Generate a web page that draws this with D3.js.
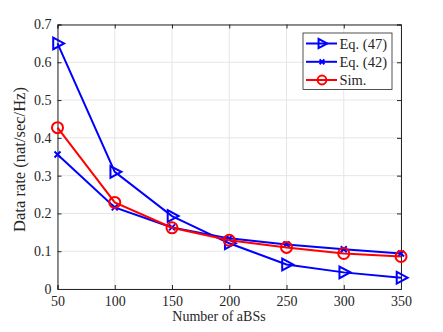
<!DOCTYPE html>
<html><head><meta charset="utf-8">
<script src="https://cdn.jsdelivr.net/npm/d3@7"></script>
<style>body{margin:0;background:#fff}svg{display:block}</style>
</head><body><div id="chart"></div>
<script>
const xValues = [50, 100, 150, 200, 250, 300, 350];
const eq47 = [0.650, 0.310, 0.193, 0.121, 0.065, 0.044, 0.030];
const eq42 = [0.356, 0.216, 0.163, 0.134, 0.118, 0.105, 0.094];
const sim  = [0.427, 0.229, 0.162, 0.129, 0.110, 0.094, 0.086];
const xTicks = [50, 100, 150, 200, 250, 300, 350];
const yTicks = [0, 0.1, 0.2, 0.3, 0.4, 0.5, 0.6, 0.7];
const seriesNames = ["Eq. (47)", "Eq. (42)", "Sim."];
const xLabel = "Number of aBSs";
const yLabel = "Data rate (nat/sec/Hz)";

const FONT = "'Times New Roman'";
const W = 443, H = 332;
const m = {l: 57.5, r: 401, t: 24.5, b: 289};
const svg = d3.select("#chart").append("svg").attr("width", W).attr("height", H);
const x = d3.scaleLinear().domain([50, 350]).range([m.l, m.r]);
const y = d3.scaleLinear().domain([0, 0.7]).range([m.b, m.t]);

// grid
const g = svg.append("g");
g.selectAll(".vx").data(xTicks).join("line").attr("x1", d => x(d)).attr("x2", d => x(d))
  .attr("y1", m.t).attr("y2", m.b).attr("stroke", "#e6e6e6").attr("stroke-width", 1);
g.selectAll(".hy").data(yTicks).join("line").attr("y1", d => y(d)).attr("y2", d => y(d))
  .attr("x1", m.l).attr("x2", m.r).attr("stroke", "#e6e6e6").attr("stroke-width", 1);

// axes
const axCol = "#262626";
const xb = svg.append("g").attr("transform", `translate(0,${m.b})`)
  .call(d3.axisBottom(x).tickValues(xTicks).tickSize(-4).tickPadding(7.5).tickFormat(d3.format("d")));
const xt = svg.append("g").attr("transform", `translate(0,${m.t})`)
  .call(d3.axisTop(x).tickValues(xTicks).tickSize(-4).tickFormat(""));
const yl = svg.append("g").attr("transform", `translate(${m.l},0)`)
  .call(d3.axisLeft(y).tickValues(yTicks).tickSize(-4).tickPadding(6).tickFormat(d => d === 0 ? "0" : d3.format(".1f")(d)));
const yr = svg.append("g").attr("transform", `translate(${m.r},0)`)
  .call(d3.axisRight(y).tickValues(yTicks).tickSize(-4).tickFormat(""));
[xb, xt, yl, yr].forEach(a => {
  a.attr("font-family", null).attr("font-size", null);
  a.select(".domain").attr("stroke", axCol).attr("stroke-width", 1);
  a.selectAll(".tick line").attr("stroke", axCol);
  a.selectAll("text").style("font-family", FONT).style("font-size", "14px").attr("fill", axCol);
});

// axis labels
svg.append("text").attr("x", 219).attr("y", 321).attr("text-anchor", "middle")
  .style("font-family", FONT).style("font-size", "14px").attr("fill", axCol).text(xLabel);
svg.append("text").attr("transform", `translate(24.5,159.5) rotate(-90)`)
  .attr("text-anchor", "middle").style("font-family", FONT).style("font-size", "16.5px").attr("fill", axCol).text(yLabel);

// series
const blue = "#0000ff", red = "#ff0000";
const line = d3.line().x((d, i) => x(xValues[i])).y(d => y(d));
const plot = svg.append("g");
function drawTri(sel, cx, cy, k = 1) {
  const s = 7.8 * k;
  sel.append("path").attr("d", `M${cx - s * 0.55},${cy - s * 0.75}L${cx + s * 0.85},${cy}L${cx - s * 0.55},${cy + s * 0.75}Z`)
    .attr("fill", "none").attr("stroke", blue).attr("stroke-width", 2);
}
function drawX(sel, cx, cy, k = 1) {
  const s = 3 * k;
  sel.append("path").attr("d", `M${cx - s},${cy - s}L${cx + s},${cy + s}M${cx - s},${cy + s}L${cx + s},${cy - s}`)
    .attr("stroke", blue).attr("stroke-width", 2);
}
function drawO(sel, cx, cy, k = 1) {
  sel.append("circle").attr("cx", cx).attr("cy", cy).attr("r", 5.5 * k).attr("fill", "none").attr("stroke", red).attr("stroke-width", 2);
}
const series = [
  {data: eq47, color: blue, mk: drawTri},
  {data: eq42, color: blue, mk: drawX},
  {data: sim, color: red, mk: drawO}
];
series.forEach(s => {
  plot.append("path").datum(s.data).attr("d", line).attr("fill", "none").attr("stroke", s.color).attr("stroke-width", 2);
  const mg = plot.append("g");
  s.data.forEach((v, i) => s.mk(mg, x(xValues[i]), y(v)));
});

// legend
const lg = svg.append("g");
lg.append("rect").attr("x", 303).attr("y", 33).attr("width", 89).attr("height", 56.5)
  .attr("fill", "#fff").attr("stroke", "#262626").attr("stroke-width", 0.8);
const ly = [43.5, 61.8, 80];
series.forEach((s, i) => {
  lg.append("line").attr("x1", 306).attr("x2", 337).attr("y1", ly[i]).attr("y2", ly[i]).attr("stroke", s.color).attr("stroke-width", 2);
  s.mk(lg, 322, ly[i], 0.8);
  lg.append("text").attr("x", 339.5).attr("y", ly[i] + 5).style("font-family", FONT).style("font-size", "14.5px").attr("fill", axCol).text(seriesNames[i]);
});
</script></body></html>
